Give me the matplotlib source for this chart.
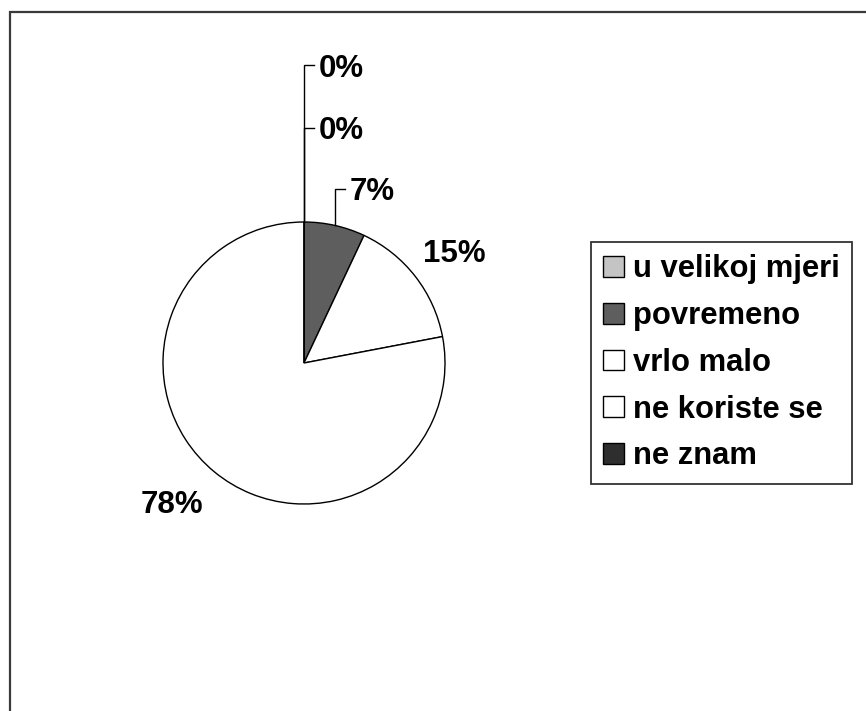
import numpy as np
import matplotlib
matplotlib.use("Agg")
import matplotlib.pyplot as plt
from matplotlib.patches import Rectangle

plt.rcParams['font.family'] = ['Liberation Sans', 'DejaVu Sans']

categories = ["u velikoj mjeri", "povremeno", "vrlo malo", "ne koriste se", "ne znam"]
values = [0, 7, 15, 78, 0]
labels = ["0%", "7%", "15%", "78%", "0%"]
colors = ["#c4c4c4", "#5e5e5e", "#ffffff", "#ffffff", "#2e2e2e"]

W, H = 866, 711
fig = plt.figure(figsize=(W / 100, H / 100), dpi=100)
fig.patch.set_facecolor("white")
ax = fig.add_axes([0, 0, 1, 1])

cx, cy, R = 304, H - 363, 141
wedges, _ = ax.pie(values, colors=colors, startangle=90, counterclock=False,
                   center=(cx, cy), radius=R, frame=True,
                   wedgeprops=dict(edgecolor="black", linewidth=1.0))
ax.set_xlim(0, W)
ax.set_ylim(0, H)
ax.set_aspect("equal")
ax.axis("off")

# outer frame
ax.add_patch(Rectangle((10, -20), W + 20, H - 12 + 20, fill=False,
                       edgecolor="#3a3a3a", linewidth=1.6, clip_on=False))

fs = 22.5
# label placement (distance factors relative to radius, angle offsets in degrees)
lab_r = {0: 2.11, 1: 1.235, 2: 1.33, 3: 1.36, 4: 1.67}
lab_da = {2: -1.0, 3: -4.0}
for i, w in enumerate(wedges):
    mid = np.deg2rad((w.theta1 + w.theta2) / 2)
    ex, ey = cx + R * np.cos(mid), cy + R * np.sin(mid)
    if i in (0, 1, 4):
        ly = cy + lab_r[i] * R
        ax.plot([ex, ex, ex + 10], [ey, ly, ly], color="black", lw=1.0,
                solid_joinstyle="miter")
        ax.text(ex + 15, ly, labels[i], fontsize=fs, fontweight="bold",
                ha="left", va="center_baseline")
    else:
        a = mid + np.deg2rad(lab_da.get(i, 0.0))
        lx, ly = cx + lab_r[i] * R * np.cos(a), cy + lab_r[i] * R * np.sin(a)
        ax.text(lx, ly, labels[i], fontsize=fs, fontweight="bold",
                ha="center", va="center_baseline")

leg = ax.legend(wedges, categories, loc="upper left",
                bbox_to_anchor=(591, H - 242), bbox_transform=ax.transData,
                borderaxespad=0, frameon=True, fancybox=False, shadow=False,
                prop=dict(size=22.3, weight="bold"),
                handlelength=0.66, handleheight=0.66, handletextpad=0.3,
                labelspacing=0.54, borderpad=0.4)
leg.get_frame().set_edgecolor("black")
leg.get_frame().set_linewidth(1.3)

fig.savefig("out.png", dpi=100, facecolor="white")
